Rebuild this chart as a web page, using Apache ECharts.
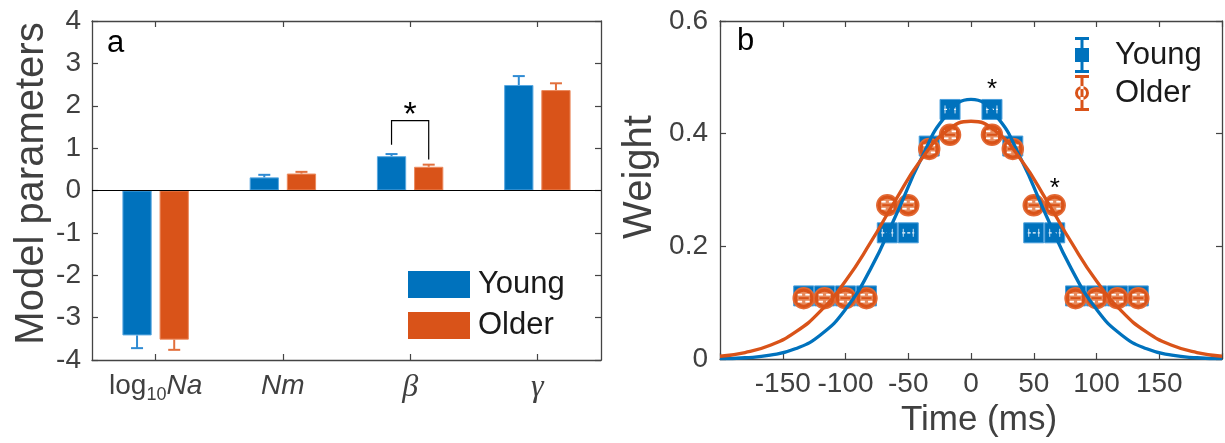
<!DOCTYPE html>
<html><head><meta charset="utf-8">
<script src="https://cdn.jsdelivr.net/npm/echarts/dist/echarts.min.js"></script>
<style>html,body{margin:0;padding:0;background:#fff}#c{width:1225px;height:443px}</style>
</head><body><div id="c"></div>
<script>
// ---------- Panel a data ----------
const categories = ['log10Na', 'Nm', 'beta', 'gamma'];
const youngVals = [-3.42, 0.31, 0.81, 2.49];
const youngErr  = [0.30, 0.06, 0.05, 0.21];
const olderVals = [-3.52, 0.40, 0.56, 2.37];
const olderErr  = [0.24, 0.04, 0.05, 0.16];
const leftTicks = [-4, -3, -2, -1, 0, 1, 2, 3, 4];
// significance bracket: [category index, young leg bottom, older leg bottom, bracket level, star level]
const bracket = [[2, 1.08, 0.73, 1.65, 1.77]];

// ---------- Panel b data ----------
const times = [-133.3, -116.7, -100, -83.3, -66.7, -50, -33.3, -16.7, 16.7, 33.3, 50, 66.7, 83.3, 100, 116.7, 133.3];
const youngW = [0.112, 0.112, 0.112, 0.112, 0.224, 0.224, 0.378, 0.443, 0.443, 0.378, 0.224, 0.224, 0.112, 0.112, 0.112, 0.112];
const olderW = [0.108, 0.108, 0.108, 0.108, 0.273, 0.273, 0.373, 0.398, 0.398, 0.373, 0.273, 0.273, 0.108, 0.108, 0.108, 0.108];
const fitTimes = [-200, -180, -160, -140, -120, -100, -80, -60, -40, -20, 0, 20, 40, 60, 80, 100, 120, 140, 160, 180, 200];
const youngFit = [0.0006, 0.0022, 0.0067, 0.0181, 0.0427, 0.0883, 0.160, 0.2543, 0.354, 0.4315, 0.461, 0.4315, 0.354, 0.2543, 0.160, 0.0883, 0.0427, 0.0181, 0.0067, 0.0022, 0.0006];
const olderFit = [0.0049, 0.0114, 0.0244, 0.0476, 0.0849, 0.1385, 0.2069, 0.2826, 0.3531, 0.4036, 0.422, 0.4036, 0.3531, 0.2826, 0.2069, 0.1385, 0.0849, 0.0476, 0.0244, 0.0114, 0.0049];
const sigMarks = [[16.7, 0.477], [66.7, 0.302]];
const rightXTicks = [-200, -150, -100, -50, 0, 50, 100, 150, 200];
const rightYTicks = [0, 0.2, 0.4, 0.6];

const BLUE = '#0072BD', ORANGE = '#D95319';
const AX = '#444444', TXT = '#404040';
const FF = 'Liberation Sans';

const chart = echarts.init(document.getElementById('c'), null, {renderer: 'canvas'});

const BAR_W = 0.23, BAR_GAP = 0.27;
function errRender(sign, color) {
  return function (params, api) {
    const ci = api.value(0), v = api.value(1), e = api.value(2);
    const base = api.coord([ci, v]);
    const end = api.coord([ci, v < 0 ? v - e : v + e]);
    const band = api.size([1, 0])[0];
    const bw = band * BAR_W, gap = bw * BAR_GAP;
    const x = base[0] + sign * (bw + gap) / 2;
    const cap = 6;
    return {type: 'group', children: [
      {type: 'line', shape: {x1: x, y1: base[1], x2: x, y2: end[1]}, style: {stroke: color, lineWidth: 2}},
      {type: 'line', shape: {x1: x - cap, y1: end[1], x2: x + cap, y2: end[1]}, style: {stroke: color, lineWidth: 2}}
    ]};
  };
}
function bracketRender(params, api) {
  const ci = api.value(0);
  const band = api.size([1, 0])[0];
  const bw = band * BAR_W, gap = bw * BAR_GAP;
  const off = (bw + gap) / 2;
  const c = api.coord([ci, api.value(3)]);
  const yb = api.coord([ci, api.value(1)])[1];
  const ob = api.coord([ci, api.value(2)])[1];
  const st = api.coord([ci, api.value(4)]);
  return {type: 'group', children: [
    {type: 'polyline', shape: {points: [[c[0] - off, yb], [c[0] - off, c[1]], [c[0] + off, c[1]], [c[0] + off, ob]]},
     style: {stroke: '#000', lineWidth: 1.2, fill: null}},
    {type: 'text', style: {text: '*', x: st[0], y: st[1], align: 'center', verticalAlign: 'middle',
      font: '34px ' + FF, fill: '#000'}}
  ]};
}
function squareRender(params, api) {
  const p = api.coord([api.value(0), api.value(1)]);
  const s = 20;
  return {type: 'group', children: [
    {type: 'rect', shape: {x: p[0] - s / 2, y: p[1] - s / 2, width: s, height: s}, style: {fill: BLUE, stroke: '#4a9fdc', lineWidth: 1}},
    {type: 'line', shape: {x1: p[0] - 6, y1: p[1], x2: p[0] + 6, y2: p[1]}, style: {stroke: '#ffffff', lineWidth: 1.2, lineDash: [3, 2]}},
    {type: 'line', shape: {x1: p[0] - 5, y1: p[1] - 4, x2: p[0] - 5, y2: p[1] + 4}, style: {stroke: '#cfe4f5', lineWidth: 1}},
    {type: 'line', shape: {x1: p[0] + 5, y1: p[1] - 4, x2: p[0] + 5, y2: p[1] + 4}, style: {stroke: '#cfe4f5', lineWidth: 1}}
  ]};
}
function circleRender(params, api) {
  const p = api.coord([api.value(0), api.value(1)]);
  return {type: 'group', children: [
    {type: 'circle', shape: {cx: p[0], cy: p[1], r: 10.5}, style: {fill: ORANGE, stroke: '#e36a35', lineWidth: 1.5}},
    {type: 'circle', shape: {cx: p[0], cy: p[1], r: 6.5}, style: {fill: '#e88a5c'}},
    {type: 'line', shape: {x1: p[0] - 6, y1: p[1] - 3.5, x2: p[0] - 1.6, y2: p[1] - 3.5}, style: {stroke: '#fff', lineWidth: 1.8}},
    {type: 'line', shape: {x1: p[0] + 1.6, y1: p[1] - 3.5, x2: p[0] + 6, y2: p[1] - 3.5}, style: {stroke: '#fff', lineWidth: 1.8}},
    {type: 'line', shape: {x1: p[0] - 6, y1: p[1] + 3.5, x2: p[0] - 1.6, y2: p[1] + 3.5}, style: {stroke: '#fff', lineWidth: 1.8}},
    {type: 'line', shape: {x1: p[0] + 1.6, y1: p[1] + 3.5, x2: p[0] + 6, y2: p[1] + 3.5}, style: {stroke: '#fff', lineWidth: 1.8}},
    {type: 'line', shape: {x1: p[0] - 5, y1: p[1], x2: p[0] + 5, y2: p[1]}, style: {stroke: ORANGE, lineWidth: 2}}
  ]};
}
function starRender(params, api) {
  const p = api.coord([api.value(0), api.value(1)]);
  return {type: 'text', style: {text: '*', x: p[0], y: p[1], align: 'center', verticalAlign: 'middle', font: '26px ' + FF, fill: '#000'}};
}

function catLabel(v) {
  if (v === 'log10Na') return '{n|log}{s|10}{i|Na}';
  if (v === 'Nm') return '{i|Nm}';
  if (v === 'beta') return '{g|\u03B2}';
  if (v === 'gamma') return '{g|\u03B3}';
  return v;
}

const axLine = {show: true, onZero: false, lineStyle: {color: AX, width: 1.3}};
const tickIn = {show: true, inside: true, length: 6, lineStyle: {color: AX, width: 1.2}};

const option = {
  animation: false,
  backgroundColor: '#fff',
  grid: [
    {left: 92, top: 21, width: 509, height: 339},
    {left: 720, top: 21, width: 508, height: 339}
  ],
  legend: [
    {
      left: 408, top: 269, orient: 'vertical', padding: 0,
      itemWidth: 62, itemHeight: 27, itemGap: 10,
      textStyle: {fontFamily: FF, fontSize: 31, color: '#1a1a1a', padding: [0, 0, 0, 3]},
      data: [{name: 'Young', icon: 'rect', itemStyle: {color: BLUE, borderWidth: 0}},
             {name: 'Older', icon: 'rect', itemStyle: {color: ORANGE, borderWidth: 0}}],
      selectedMode: false
    },
    {
      left: 1075, top: 37, orient: 'vertical', padding: 0,
      itemWidth: 14, itemHeight: 36, itemGap: 2,
      textStyle: {fontFamily: FF, fontSize: 31, color: '#1a1a1a', padding: [0, 0, 0, 21]},
      data: [
        {name: 'Young', icon: 'path://M0,0 H14 V3 H8.5 V11 H14 V25 H8.5 V33 H14 V36 H0 V33 H5.5 V25 H0 V11 H5.5 V3 H0 Z', itemStyle: {color: BLUE, borderWidth: 0}},
        {name: 'Older', icon: 'path://M0,0 H14 V3 H8.5 V33 H14 V36 H0 V33 H5.5 V3 H0 Z M0,18 A7,7 0 1,0 14,18 A7,7 0 1,0 0,18 Z M3,18 A4,4 0 1,1 11,18 A4,4 0 1,1 3,18 Z', itemStyle: {color: ORANGE, borderWidth: 0}}
      ],
      selectedMode: false
    }
  ],
  xAxis: [
    {
      type: 'category', gridIndex: 0, data: categories, position: 'bottom',
      axisLine: axLine, axisTick: Object.assign({alignWithLabel: true}, tickIn),
      axisLabel: {
        margin: 12, formatter: catLabel, color: TXT,
        rich: {
          n: {fontFamily: FF, fontSize: 28, color: TXT},
          s: {fontFamily: FF, fontSize: 18, color: TXT, verticalAlign: 'bottom', lineHeight: 18, padding: [0, 0, -4, 0]},
          i: {fontFamily: FF, fontSize: 28, fontStyle: 'italic', color: TXT},
          g: {fontFamily: 'Liberation Serif', fontSize: 32, fontStyle: 'italic', color: TXT}
        }
      },
      splitLine: {show: false}
    },
    {
      type: 'category', gridIndex: 0, data: categories, position: 'top',
      axisLine: axLine, axisTick: Object.assign({alignWithLabel: true}, tickIn),
      axisLabel: {show: false}, splitLine: {show: false}
    },
    {
      type: 'value', gridIndex: 1, min: -200, max: 200, interval: 50, position: 'bottom',
      axisLine: axLine, axisTick: tickIn, splitLine: {show: false},
      axisLabel: {margin: 11, fontFamily: FF, fontSize: 28, color: TXT,
        formatter: v => (v === -200 || v === 200) ? '' : String(v)},
      name: 'Time (ms)', nameLocation: 'middle', nameGap: 44,
      nameTextStyle: {fontFamily: FF, fontSize: 35, color: TXT, padding: [0, 0, 0, 16]}
    },
    {
      type: 'value', gridIndex: 1, min: -200, max: 200, interval: 50, position: 'top',
      axisLine: axLine, axisTick: tickIn, splitLine: {show: false}, axisLabel: {show: false}
    }
  ],
  yAxis: [
    {
      type: 'value', gridIndex: 0, min: -4, max: 4, interval: 1, position: 'left',
      axisLine: axLine, axisTick: tickIn, splitLine: {show: false},
      axisLabel: {margin: 11, fontFamily: FF, fontSize: 28, color: TXT},
      name: 'Model parameters', nameLocation: 'middle', nameGap: 40,
      nameTextStyle: {fontFamily: FF, fontSize: 40, color: TXT, padding: [0, 0, 0, 14]}
    },
    {
      type: 'value', gridIndex: 0, min: -4, max: 4, interval: 1, position: 'right',
      axisLine: axLine, axisTick: tickIn, splitLine: {show: false}, axisLabel: {show: false}
    },
    {
      type: 'value', gridIndex: 1, min: 0, max: 0.6, interval: 0.2, position: 'left',
      axisLine: axLine, axisTick: tickIn, splitLine: {show: false},
      axisLabel: {margin: 12, fontFamily: FF, fontSize: 28, color: TXT,
        formatter: v => v === 0 ? '0' : v.toFixed(1)},
      name: 'Weight', nameLocation: 'middle', nameGap: 60,
      nameTextStyle: {fontFamily: FF, fontSize: 40, color: TXT, padding: [0, 0, 0, 26]}
    },
    {
      type: 'value', gridIndex: 1, min: 0, max: 0.6, interval: 0.2, position: 'right',
      axisLine: axLine, axisTick: tickIn, splitLine: {show: false}, axisLabel: {show: false}
    }
  ],
  series: [
    {
      name: 'Young', type: 'bar', xAxisIndex: 0, yAxisIndex: 0, data: youngVals,
      barWidth: (BAR_W * 100) + '%', barGap: (BAR_GAP * 100) + '%',
      itemStyle: {color: BLUE, borderColor: '#5aa8e0', borderWidth: 1},
      markLine: {silent: true, symbol: 'none', label: {show: false},
        lineStyle: {color: '#000', width: 1.2, type: 'solid'}, data: [{yAxis: 0}]},
      z: 2
    },
    {
      name: 'Older', type: 'bar', xAxisIndex: 0, yAxisIndex: 0, data: olderVals,
      barWidth: (BAR_W * 100) + '%', barGap: (BAR_GAP * 100) + '%',
      itemStyle: {color: ORANGE, borderColor: '#eb8a5e', borderWidth: 1},
      z: 2
    },
    {
      name: 'Young err', type: 'custom', xAxisIndex: 0, yAxisIndex: 0,
      renderItem: errRender(-1, '#2f8bd3'), encode: {x: 0, y: 1},
      data: youngVals.map((v, i) => [i, v, youngErr[i]]), z: 3
    },
    {
      name: 'Older err', type: 'custom', xAxisIndex: 0, yAxisIndex: 0,
      renderItem: errRender(1, '#e2703d'), encode: {x: 0, y: 1},
      data: olderVals.map((v, i) => [i, v, olderErr[i]]), z: 3
    },
    {
      name: 'bracket', type: 'custom', xAxisIndex: 0, yAxisIndex: 0,
      renderItem: bracketRender, encode: {x: 0, y: 3}, data: bracket, z: 4
    },
    {
      name: 'Young pts', type: 'custom', xAxisIndex: 2, yAxisIndex: 2,
      renderItem: squareRender, encode: {x: 0, y: 1},
      data: times.map((t, i) => [t, youngW[i]]), z: 2
    },
    {
      name: 'Older pts', type: 'custom', xAxisIndex: 2, yAxisIndex: 2,
      renderItem: circleRender, encode: {x: 0, y: 1},
      data: times.map((t, i) => [t, olderW[i]]), z: 3
    },
    {
      name: 'Young fit', type: 'line', xAxisIndex: 2, yAxisIndex: 2, smooth: true, showSymbol: false,
      data: fitTimes.map((t, i) => [t, youngFit[i]]),
      lineStyle: {color: BLUE, width: 3.3}, itemStyle: {color: BLUE}, z: 4
    },
    {
      name: 'Older fit', type: 'line', xAxisIndex: 2, yAxisIndex: 2, smooth: true, showSymbol: false,
      data: fitTimes.map((t, i) => [t, olderFit[i]]),
      lineStyle: {color: ORANGE, width: 3.3}, itemStyle: {color: ORANGE}, z: 5
    },
    {
      name: 'sig', type: 'custom', xAxisIndex: 2, yAxisIndex: 2,
      renderItem: starRender, encode: {x: 0, y: 1}, data: sigMarks, z: 6
    }
  ],
  graphic: [
    {type: 'text', left: 107, top: 28, style: {text: 'a', font: '31px ' + FF, fill: '#000'}},
    {type: 'text', left: 737, top: 26, style: {text: 'b', font: '31px ' + FF, fill: '#000'}}
  ]
};
chart.setOption(option);
</script>
</body></html>
